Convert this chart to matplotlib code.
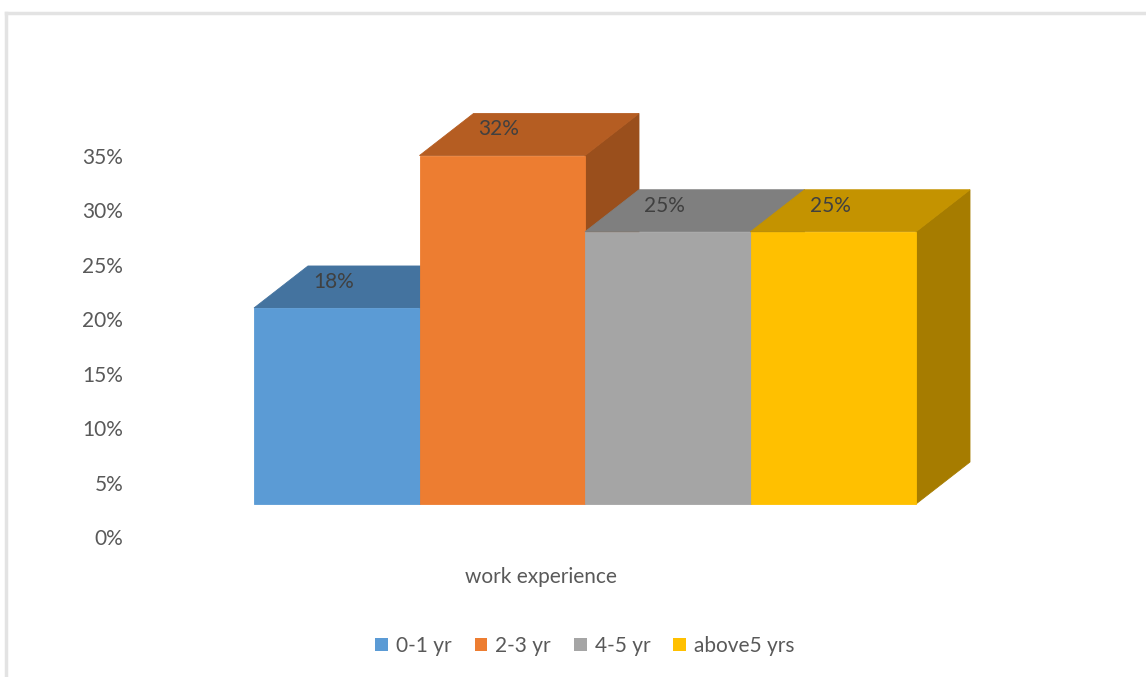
import matplotlib.pyplot as plt
from matplotlib.patches import Polygon
from matplotlib.lines import Line2D

# data
categories = ['0-1 yr', '2-3 yr', '4-5 yr', 'above5 yrs']
values = [18, 32, 25, 25]
labels = ['18%', '32%', '25%', '25%']
yticks = [0, 5, 10, 15, 20, 25, 30, 35]

# colours: front, top, side
front_colors = ['#5B9BD5', '#ED7D31', '#A5A5A5', '#FFC000']
top_colors = ['#44739F', '#B55D22', '#7F7F7F', '#C49300']
side_colors = ['#375D81', '#9A4F1C', '#676767', '#A67C00']

plt.rcParams['font.family'] = ['Lato', 'DejaVu Sans']

W, H = 1146, 677
fig = plt.figure(figsize=(W / 100, H / 100), dpi=100)

# pixel anchors of the reference layout
px_per_cat = 165.5
px_per_pct = 10.89
x0_px = 254          # left edge of first bar
ax_left_px, ax_right_px = 130, 1000
ax_bottom_px = H - 537  # 0% line
ymax = 40

xmin = (ax_left_px - x0_px) / px_per_cat
xmax = (ax_right_px - x0_px) / px_per_cat
ax = fig.add_axes([ax_left_px / W, ax_bottom_px / H,
                   (ax_right_px - ax_left_px) / W, ymax * px_per_pct / H])
ax.set_xlim(xmin, xmax)
ax.set_ylim(0, ymax)
for s in ax.spines.values():
    s.set_visible(False)
ax.set_xticks([])
ax.set_yticks(yticks)
ax.set_yticklabels([f'{t}%' for t in yticks])
ax.tick_params(axis='y', length=0, pad=5, labelsize=15, labelcolor='#595959')

base = 33 / px_per_pct   # floor of the front faces
dx = 54 / px_per_cat     # depth offset
dy = 42 / px_per_pct

for i, v in enumerate(values):
    x1, x2 = i, i + 1
    top = base + v
    side = [(x2, base), (x2 + dx, base + dy), (x2 + dx, top + dy), (x2, top)]
    topf = [(x1, top), (x1 + dx, top + dy), (x2 + dx, top + dy), (x2, top)]
    front = [(x1, base), (x2, base), (x2, top), (x1, top)]
    ax.add_patch(Polygon(side, closed=True, facecolor=side_colors[i],
                         edgecolor=side_colors[i], lw=0.6))
    ax.add_patch(Polygon(topf, closed=True, facecolor=top_colors[i],
                         edgecolor=top_colors[i], lw=0.6))
    ax.add_patch(Polygon(front, closed=True, facecolor=front_colors[i],
                         edgecolor=front_colors[i], lw=0.6))

for i, v in enumerate(values):
    ax.text(i + 0.48, base + v + dy * 0.62, labels[i], ha='center', va='center',
            fontsize=15, color='#404040')

fig.text(541 / W, 1 - 577 / H, 'work experience', ha='center', va='center',
         fontsize=15, color='#595959')

handles = [plt.Rectangle((0, 0), 1, 1, facecolor=c, edgecolor='none') for c in front_colors]
fig.legend(handles, categories, loc='center', bbox_to_anchor=(585 / W, 1 - 646 / H),
           ncol=4, frameon=False, fontsize=15, labelcolor='#595959',
           handlelength=0.6, handleheight=0.6, handletextpad=0.4, columnspacing=1.1)

# chart frame (only top and left edges visible)
fig.add_artist(Line2D([6 / W, 6 / W], [0, 1 - 13 / H], color='#E3E3E3', lw=2.5))
fig.add_artist(Line2D([6 / W, 1], [1 - 13 / H, 1 - 13 / H], color='#E3E3E3', lw=2.5))

fig.savefig('out.png', dpi=100)
